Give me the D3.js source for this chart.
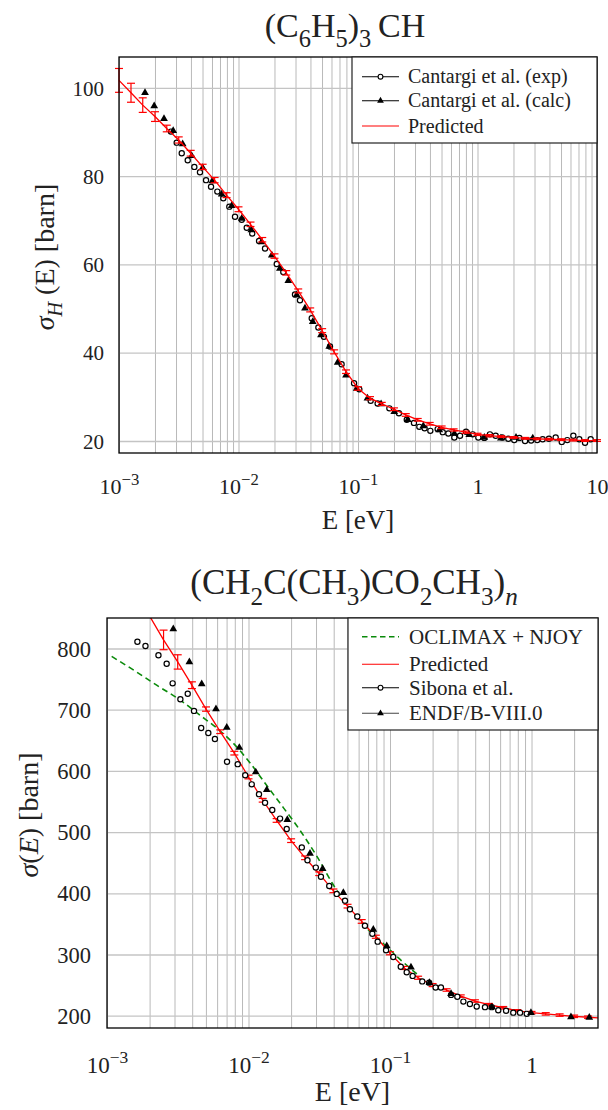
<!DOCTYPE html>
<html>
<head>
<meta charset="utf-8">
<script src="https://cdn.jsdelivr.net/npm/d3@7"></script>
<style>
  body { margin: 0; background: #fff; }
  svg text { font-family: "Liberation Serif", "DejaVu Serif", serif; fill: #222; }
</style>
</head>
<body>
<svg id="chart" width="608" height="1110"></svg>
<script>
// ---------- top panel: (C6H5)3CH ----------
var topExpE = [0.00272, 0.00304, 0.00335, 0.00376, 0.00427, 0.00476, 0.00535, 0.00589, 0.00665, 0.00746,
  0.00838, 0.00935, 0.01064, 0.01172, 0.01303, 0.01486, 0.01667, 0.0209, 0.0237, 0.0297,
  0.0327, 0.041, 0.0466, 0.0519, 0.0583, 0.0729, 0.0927, 0.1026, 0.1276, 0.146,
  0.183, 0.22, 0.256, 0.294, 0.326, 0.361, 0.403, 0.464, 0.512, 0.57,
  0.64, 0.714, 0.802, 0.912, 1.016, 1.14, 1.27, 1.42, 1.61, 1.81,
  2.03, 2.24, 2.5, 2.81, 3.16, 3.51, 3.96, 4.51, 5.07, 5.64,
  6.34, 7.11, 7.94, 8.85];
var topExpV = [90.1, 87.6, 85.2, 83.6, 82.1, 80.9, 79.1, 77.6, 76.5, 75.0,
  73.1, 70.8, 70.1, 68.3, 67.0, 65.3, 63.6, 60.1, 58.3, 53.2,
  51.9, 47.8, 45.7, 43.6, 41.4, 37.4, 33.1, 31.7, 29.1, 28.5,
  27.4, 26.3, 24.8, 24.1, 23.2, 22.9, 22.3, 22.7, 22.0, 21.7,
  20.8, 21.2, 22.1, 21.5, 20.8, 20.7, 21.5, 21.2, 20.8, 20.5,
  20.2, 20.7, 20.0, 20.1, 20.2, 20.4, 20.5, 20.8, 19.8, 20.2,
  21.2, 20.4, 19.6, 20.4];

var topCalcE = [0.00165, 0.00197, 0.00238, 0.00284, 0.00341, 0.00406, 0.00501, 0.00604, 0.00723, 0.00877,
  0.01064, 0.0128, 0.0156, 0.019, 0.0222, 0.0261, 0.0307, 0.036, 0.0418, 0.049,
  0.0575, 0.0676, 0.0794, 0.0975, 0.12, 0.156, 0.201, 0.261, 0.352, 0.479,
  0.64, 0.853, 1.14, 1.57, 2.1, 2.9];
var topCalcV = [98.9, 95.9, 93.0, 90.3, 87.3, 84.6, 81.9, 78.9, 75.9, 73.3,
  70.4, 67.8, 65.1, 62.1, 59.1, 56.3, 53.1, 50.1, 47.0, 44.0,
  41.4, 37.8, 34.9, 31.9, 29.7, 28.4, 26.6, 24.8, 23.4, 22.5,
  21.7, 21.4, 20.8, 20.6, 20.8, 20.6];

var topPredE = [0.001, 0.00126, 0.00158, 0.002, 0.00251, 0.00316, 0.00398, 0.00501, 0.00631, 0.00794,
  0.01, 0.0126, 0.0158, 0.02, 0.0251, 0.0316, 0.0398, 0.0501, 0.0631, 0.0794,
  0.1, 0.126, 0.158, 0.2, 0.251, 0.316, 0.398, 0.501, 0.631, 0.794,
  1, 1.26, 1.58, 2, 2.51, 3.16, 3.98, 5.01, 6.31, 7.94, 10];
var topPredV = [101.7, 98.9, 96.1, 93.5, 90.8, 88.2, 85.2, 82.1, 79.1, 75.7,
  72.5, 69.1, 65.6, 61.9, 58.1, 54.0, 49.7, 45.0, 40.2, 35.7,
  31.9, 29.7, 28.4, 27.2, 25.9, 24.8, 23.9, 23.1, 22.5, 22.0,
  21.5, 21.2, 21.0, 20.8, 20.6, 20.5, 20.4, 20.3, 20.2, 20.1, 20.1];
var topPredErr = [2.7, 2.15, 1.65, 1.1, 0.75, 0.7, 0.65, 0.6, 0.6, 0.55,
  0.55, 0.5, 0.5, 0.5, 0.5, 0.45, 0.45, 0.45, 0.45, 0.4,
  0.4, 0.35, 0.35, 0.3, 0.3, 0.3, 0.3, 0.3, 0.25, 0.25,
  0.25, 0.25, 0.2, 0.2, 0.2, 0.2, 0.2, 0.2, 0.2, 0.2, 0.2];

var topXTicks = [0.001, 0.01, 0.1, 1, 10];
var topXLabels = ["10^\u22123", "10^\u22122", "10^\u22121", "1", "10"];
var topYTicks = [20, 40, 60, 80, 100];

// ---------- bottom panel: PMMA ----------
var botOclE = [0.001079, 0.001535, 0.002244, 0.00328, 0.00454, 0.00596, 0.00782, 0.01026, 0.01346, 0.01762,
  0.0231, 0.0303, 0.0397, 0.0521, 0.0684, 0.0897, 0.1178, 0.163];
var botOclV = [787, 765, 740, 716, 691, 670, 645, 613, 576, 540,
  503, 461, 414, 374, 343, 318, 292, 264];

var botPredE = [0.002, 0.00251, 0.00316, 0.00398, 0.00501, 0.00631, 0.00794, 0.01, 0.0126, 0.0158,
  0.02, 0.0251, 0.0316, 0.0398, 0.0501, 0.0631, 0.0794, 0.1, 0.126, 0.158,
  0.2, 0.251, 0.316, 0.398, 0.501, 0.631, 0.794, 1, 1.26, 1.58,
  2, 2.51, 3.16];
var botPredV = [853, 814, 778, 740, 701, 664, 629, 590, 552, 519,
  486, 458, 432, 404, 379, 354, 329, 302, 278, 262,
  250, 242, 232, 224, 218, 213, 208, 205, 203, 201,
  199, 197.5, 196];
var botPredErr = [2, 16, 11.7, 5.5, 3.5, 3, 3, 3, 3, 3,
  3, 3, 3, 3, 3, 3, 2.5, 2.5, 2.5, 2.5,
  2.5, 2, 2, 2, 2, 2, 2, 2, 2, 2,
  2, 2, 2];

var botSibE = [0.00164, 0.00187, 0.00231, 0.00264, 0.00291, 0.0033, 0.00372, 0.00412, 0.00463, 0.0052,
  0.00579, 0.00705, 0.00839, 0.00948, 0.01054, 0.01186, 0.01309, 0.01472, 0.01671, 0.01862,
  0.0238, 0.0261, 0.0299, 0.0325, 0.0372, 0.042, 0.0481, 0.0521, 0.0587, 0.0665,
  0.075, 0.0818, 0.0938, 0.1054, 0.1191, 0.1312, 0.1445, 0.169, 0.189, 0.21,
  0.229, 0.27, 0.299, 0.33, 0.367, 0.41, 0.469, 0.524, 0.582, 0.661,
  0.743, 0.83, 0.925];
var botSibV = [811, 804, 789, 775, 743, 717, 726, 698, 670, 662,
  652, 615, 611, 593, 578, 562, 548, 536, 522, 505,
  475, 454, 442, 427, 412, 399, 388, 374, 362, 347,
  334, 321, 307, 296, 280, 271, 265, 256, 254, 246,
  246, 234, 231, 223, 219, 215, 214, 214, 209, 208,
  205, 205, 203];

var botEndfE = [0.00294, 0.00382, 0.00467, 0.00589, 0.00702, 0.00861, 0.01125, 0.01346, 0.0188, 0.0272,
  0.0334, 0.0468, 0.0762, 0.0948, 0.1406, 0.19, 0.27, 0.524, 0.991, 1.9, 2.56];
var botEndfV = [832, 778, 742, 701, 671, 638, 598, 569, 520, 465,
  440, 401, 341, 314, 279, 254, 236, 214, 205, 198, 197];

var botXTicks = [0.001, 0.01, 0.1, 1];
var botXLabels = ["10^\u22123", "10^\u22122", "10^\u22121", "1"];
var botYTicks = [200, 300, 400, 500, 600, 700, 800];

var svg = d3.select("#chart");

// writes parts like ["C"], ["6","sub"], ["E","i"] into a text element
function richText(el, parts, size, small) {
  var k = small || 0.72;
  var cur = 0;
  parts.forEach(function (p) {
    var kind = p[1] || "";
    var shift = kind.indexOf("sub") >= 0 ? size * 0.3 : kind.indexOf("sup") >= 0 ? -size * 0.42 : 0;
    var t = el.append("tspan").text(p[0]).attr("dy", shift - cur);
    cur = shift;
    if (shift !== 0) t.attr("font-size", size * k);
    if (kind.charAt(0) === "i") t.attr("font-style", "italic");
  });
}

function drawPanel(p) {
  var g = svg.append("g").attr("transform", "translate(" + p.left + "," + p.top + ")");
  var x = d3.scaleLog().domain(p.xDomain).range([0, p.width]);
  var y = d3.scaleLinear().domain(p.yDomain).range([p.height, 0]);

  g.append("clipPath").attr("id", p.id + "-clip")
    .append("rect").attr("width", p.width).attr("height", p.height);

  // grid
  g.append("g")
    .attr("transform", "translate(0," + p.height + ")")
    .call(d3.axisBottom(x).tickValues(x.ticks()).tickSize(-p.height).tickFormat(""))
    .call(function (s) {
      s.select(".domain").remove();
      s.selectAll("line").attr("stroke", "#b9b9b9").attr("stroke-width", 1);
    });
  g.append("g")
    .call(d3.axisLeft(y).tickValues(p.yTicks).tickSize(-p.width).tickFormat(""))
    .call(function (s) {
      s.select(".domain").remove();
      s.selectAll("line").attr("stroke", "#c4c4c4").attr("stroke-width", 1.3);
    });

  // tick labels
  g.append("g")
    .call(d3.axisLeft(y).tickValues(p.yTicks).tickSize(0).tickPadding(p.yPad))
    .call(function (s) {
      s.attr("font-family", null).attr("font-size", null);
      s.select(".domain").remove();
      s.selectAll("text").attr("font-size", p.tickFont).attr("fill", "#222").attr("dy", "0.34em");
    });
  g.append("g")
    .attr("transform", "translate(0," + p.height + ")")
    .call(d3.axisBottom(x).tickValues(p.xTicks).tickSize(0).tickFormat(""))
    .call(function (s) {
      s.attr("font-family", null).attr("font-size", null);
      s.select(".domain").remove();
      s.selectAll("text").each(function (d, i) {
        var t = d3.select(this).attr("y", p.xLabelY).attr("dy", null)
          .attr("font-size", p.xTickFont).attr("fill", "#222");
        var lab = p.xLabels[i].split("^");
        var parts = [[lab[0]]];
        if (lab.length > 1) parts.push([lab[1], "sup"]);
        richText(t, parts, p.xTickFont, 0.76);
      });
    });

  // series
  var plot = g.append("g").attr("clip-path", p.clip ? "url(#" + p.id + "-clip)" : null);
  var line = d3.line().x(function (d) { return x(d[0]); }).y(function (d) { return y(d[1]); });
  p.series.forEach(function (s) {
    var data = d3.zip(s.e, s.v);
    if (s.kind === "green") {
      plot.append("path").datum(data).attr("d", line.curve(d3.curveMonotoneX))
        .attr("fill", "none").attr("stroke", "#0a8a0a").attr("stroke-width", 1.6)
        .attr("stroke-dasharray", "6,4");
      line.curve(d3.curveLinear);
    } else if (s.kind === "red") {
      plot.append("path").datum(data).attr("d", line)
        .attr("fill", "none").attr("stroke", "#ff0000").attr("stroke-width", 1.3);
      var eb = plot.append("g").attr("stroke", "#ff0000").attr("stroke-width", 1.2);
      d3.zip(s.e, s.v, s.err).forEach(function (d) {
        var cx = x(d[0]), y0 = y(d[1] - d[2]), y1 = y(d[1] + d[2]);
        eb.append("line").attr("x1", cx).attr("x2", cx).attr("y1", y0).attr("y2", y1);
        eb.append("line").attr("x1", cx - 4).attr("x2", cx + 4).attr("y1", y0).attr("y2", y0);
        eb.append("line").attr("x1", cx - 4).attr("x2", cx + 4).attr("y1", y1).attr("y2", y1);
      });
    } else if (s.kind === "circle") {
      plot.append("g").selectAll("circle").data(data).enter().append("circle")
        .attr("cx", function (d) { return x(d[0]); })
        .attr("cy", function (d) { return y(d[1]); })
        .attr("r", 2.6).attr("fill", "#fff").attr("stroke", "#000").attr("stroke-width", 1.2);
    } else if (s.kind === "tri") {
      plot.append("g").selectAll("path").data(data).enter().append("path")
        .attr("d", d3.symbol().type(d3.symbolTriangle).size(26))
        .attr("transform", function (d) { return "translate(" + x(d[0]) + "," + y(d[1]) + ")"; })
        .attr("fill", "#000");
    }
  });

  // frame
  g.append("rect").attr("width", p.width).attr("height", p.height)
    .attr("fill", "none").attr("stroke", "#000").attr("stroke-width", 1.3);

  // legend (item coordinates are relative to the legend box)
  var L = p.legend;
  var lg = g.append("g").attr("transform", "translate(" + L.x + "," + L.y + ")");
  lg.append("rect").attr("width", L.w).attr("height", L.h)
    .attr("fill", "#fff").attr("stroke", "#222").attr("stroke-width", 1.2);
  L.items.forEach(function (it, i) {
    var ry = L.rows[i];
    var col = it.kind === "red" ? "#ff0000" : it.kind === "green" ? "#0a8a0a" : it.kind === "tri2" ? "#444" : "#000";
    lg.append("line").attr("x1", L.sx).attr("x2", L.sx + 37).attr("y1", ry).attr("y2", ry)
      .attr("stroke", col).attr("stroke-width", it.kind === "green" ? 1.6 : 1.1)
      .attr("stroke-dasharray", it.kind === "green" ? "5.5,3.5" : null);
    if (it.kind === "circle") {
      lg.append("circle").attr("cx", L.sx + 18.5).attr("cy", ry).attr("r", 2.4)
        .attr("fill", "#fff").attr("stroke", "#000").attr("stroke-width", 1.1);
    } else if (it.kind === "tri" || it.kind === "tri2") {
      lg.append("path").attr("d", d3.symbol().type(d3.symbolTriangle).size(20))
        .attr("transform", "translate(" + (L.sx + 18.5) + "," + ry + ")").attr("fill", "#000");
    }
    lg.append("text").attr("x", L.tx).attr("y", ry).attr("dy", "0.33em")
      .attr("font-size", L.font).text(it.label);
  });

  // titles
  richText(svg.append("text").attr("x", p.titleX).attr("y", p.titleY)
    .attr("text-anchor", "middle").attr("font-size", p.titleFont), p.title, p.titleFont);
  richText(svg.append("text").attr("x", p.left + p.width / 2).attr("y", p.xTitleY)
    .attr("text-anchor", "middle").attr("font-size", p.axisFont), [["E [eV]"]], p.axisFont);
  richText(svg.append("text")
    .attr("transform", "translate(" + p.yTitleX + "," + p.yTitleY + ") rotate(-90)")
    .attr("text-anchor", "middle").attr("font-size", p.yAxisFont), p.yTitle, p.yAxisFont);
}

drawPanel({
  id: "top", left: 119, top: 57, width: 478, height: 396,
  xDomain: [0.001, 10], yDomain: [17.28, 107],
  xTicks: topXTicks, xLabels: topXLabels, yTicks: topYTicks,
  tickFont: 21, xTickFont: 22, yPad: 15, xLabelY: 41, clip: false,
  series: [
    { kind: "circle", e: topExpE, v: topExpV },
    { kind: "tri", e: topCalcE, v: topCalcV },
    { kind: "red", e: topPredE, v: topPredV, err: topPredErr }
  ],
  legend: {
    x: 233, y: 0, w: 245, h: 86, rows: [19.7, 43.7, 69], sx: 10, tx: 56, font: 20,
    items: [
      { label: "Cantargi et al. (exp)", kind: "circle" },
      { label: "Cantargi et al. (calc)", kind: "tri" },
      { label: "Predicted", kind: "red" }
    ]
  },
  title: [["(C"], ["6", "sub"], ["H"], ["5", "sub"], [")"], ["3", "sub"], ["\u2009CH"]],
  titleX: 345, titleY: 37, titleFont: 34,
  axisFont: 27, yAxisFont: 28, xTitleY: 529, yTitleX: 54, yTitleY: 257,
  yTitle: [["\u03c3", "i"], ["H", "isub"], [" (E) [barn]"]]
});

drawPanel({
  id: "bot", left: 107, top: 618, width: 491, height: 410,
  xDomain: [0.001, 2.95], yDomain: [179.9, 849.8],
  xTicks: botXTicks, xLabels: botXLabels, yTicks: botYTicks,
  tickFont: 22.5, xTickFont: 23, yPad: 16, xLabelY: 45, clip: true,
  series: [
    { kind: "green", e: botOclE, v: botOclV },
    { kind: "red", e: botPredE, v: botPredV, err: botPredErr },
    { kind: "circle", e: botSibE, v: botSibV },
    { kind: "tri", e: botEndfE, v: botEndfV }
  ],
  legend: {
    x: 241, y: 0, w: 250, h: 112, rows: [18.7, 46.3, 69.7, 95.3], sx: 14, tx: 61, font: 21,
    items: [
      { label: "OCLIMAX + NJOY", kind: "green" },
      { label: "Predicted", kind: "red" },
      { label: "Sibona et al.", kind: "circle" },
      { label: "ENDF/B-VIII.0", kind: "tri2" }
    ]
  },
  title: [["(CH"], ["2", "sub"], ["C(CH"], ["3", "sub"], [")CO"], ["2", "sub"], ["CH"], ["3", "sub"], [")"], ["n", "isub"]],
  titleX: 354, titleY: 594, titleFont: 35,
  axisFont: 28, yAxisFont: 28, xTitleY: 1101, yTitleX: 38, yTitleY: 815,
  yTitle: [["\u03c3", "i"], ["("], ["E", "i"], [") [barn]"]]
});
</script>
</body>
</html>
